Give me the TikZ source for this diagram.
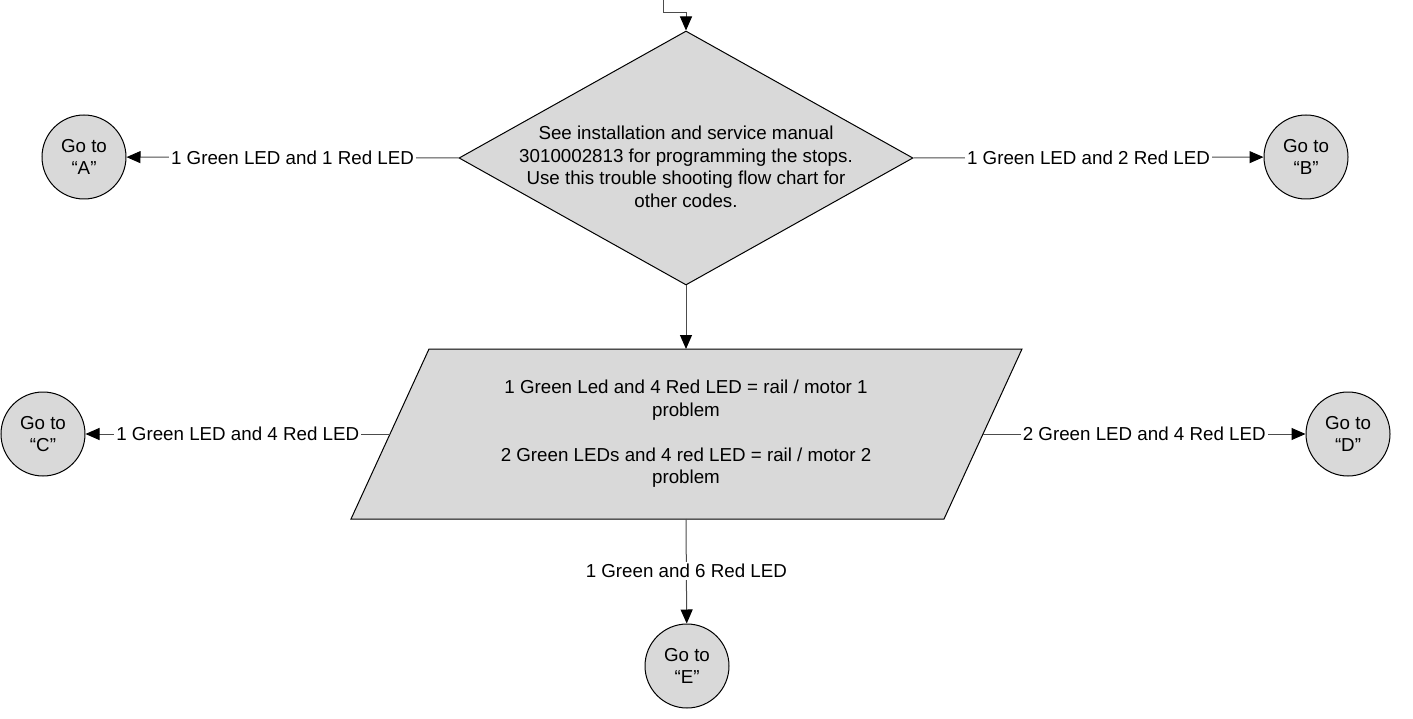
\documentclass[tikz,border=0pt]{standalone}
\usepackage{fontspec}
\setmainfont{Liberation Sans}
\usetikzlibrary{arrows.meta,shapes.geometric}

\definecolor{boxgray}{RGB}{217,217,217}

\begin{document}
\begin{tikzpicture}[x=1pt,y=-1pt,
    every node/.style={font=\fontsize{18.75}{22.5}\selectfont},
    shapefill/.style={draw=black,line width=1pt,fill=boxgray},
    gotonode/.style={shapefill,circle,minimum size=84pt,inner sep=0pt,align=center},
    flow/.style={draw=black!70,line width=1pt,-{Triangle[length=14pt,width=12pt,color=black]}},
    ledlabel/.style={fill=white,inner sep=2pt}]

    \useasboundingbox (0,0) rectangle (1413,719);

    \coordinate (entry) at (663,0);
    \coordinate (ioTL) at (429,349);
    \coordinate (ioTR) at (1022,349);
    \coordinate (ioBR) at (944,519);
    \coordinate (ioBL) at (351,519);
    \coordinate (ioN) at (686,349);
    \coordinate (ioS) at (686,519);
    \coordinate (ioW) at (390,434);
    \coordinate (ioE) at (983,434);

    % decision and input shapes
    \node[shapefill,diamond,minimum width=454pt,minimum height=254pt,inner sep=0pt]
        (check) at (686,158) {};
    \node[align=center] (checktext) at (686,167)
        {See installation and service manual\\
         3010002813 for programming the stops.\\
         Use this trouble shooting flow chart for\\
         other codes.};

    \draw[shapefill] (ioTL) -- (ioTR) -- (ioBR) -- (ioBL) -- cycle;
    \node[align=center] (iotext) at (686,434)
        {1 Green Led and 4 Red LED = rail / motor 1\\
         problem\\[22.5pt]
         2 Green LEDs and 4 red LED = rail / motor 2\\
         problem};

    % go to circles
    \node[gotonode] (goA) at (84,157) {Go to\\“A”};
    \node[gotonode] (goB) at (1306,157) {Go to\\“B”};
    \node[gotonode] (goC) at (43,434) {Go to\\“C”};
    \node[gotonode] (goD) at (1348,434) {Go to\\“D”};
    \node[gotonode] (goE) at (687,666) {Go to\\“E”};

    % connectors
    \draw[flow] (entry) -- (663,13) -| (check.north);
    \draw[flow] (check.west) -- (goA)
        node[midway,ledlabel] {1 Green LED and 1 Red LED};
    \draw[flow] (check.east) -- (goB)
        node[midway,ledlabel] {1 Green LED and 2 Red LED};
    \draw[flow] (check.south) -- (ioN);
    \draw[flow] (ioW) -- (goC)
        node[midway,ledlabel] {1 Green LED and 4 Red LED};
    \draw[flow] (ioE) -- (goD)
        node[midway,ledlabel] {2 Green LED and 4 Red LED};
    \draw[flow] (ioS) -- (goE)
        node[midway,ledlabel] {1 Green and 6 Red LED};
\end{tikzpicture}
\end{document}
